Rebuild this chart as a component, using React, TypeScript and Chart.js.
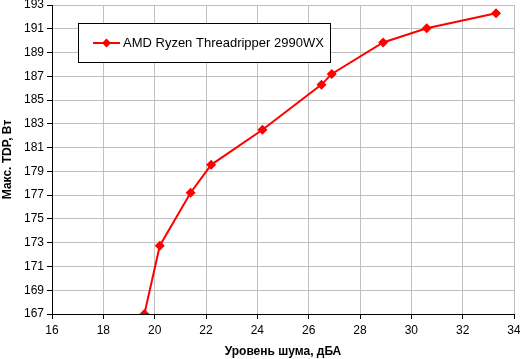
import React, { useEffect, useRef } from "react";
import { Chart, registerables } from "chart.js";

Chart.register(...registerables);

const seriesLabel = "AMD Ryzen Threadripper 2990WX";
const noiseDbA = [19.6, 20.2, 21.4, 22.2, 24.2, 26.5, 26.9, 28.9, 30.6, 33.3];
const maxTdpW = [167, 172.75, 177.2, 179.55, 182.5, 186.3, 187.2, 189.85, 191.05, 192.3];
const xTitle = "Уровень шума, дБА";
const yTitle = "Макс. TDP, Вт";

const FONT = "Arial, 'Liberation Sans', sans-serif";

const legendPlugin = {
  id: "boxLegend",
  afterDatasetsDraw(chart: any) {
    const ctx = chart.ctx;
    const ds = chart.data.datasets[0];
    ctx.save();
    const x0 = 78.5, y0 = 23.5, w = 252, h = 39;
    ctx.fillStyle = "#ffffff";
    ctx.fillRect(x0, y0, w, h);
    ctx.strokeStyle = "#000000";
    ctx.lineWidth = 1;
    ctx.strokeRect(x0, y0, w, h);
    const cy = 43;
    ctx.strokeStyle = ds.borderColor;
    ctx.lineWidth = 2;
    ctx.beginPath();
    ctx.moveTo(93, cy);
    ctx.lineTo(120, cy);
    ctx.stroke();
    ctx.fillStyle = ds.pointBackgroundColor;
    ctx.beginPath();
    ctx.moveTo(106.5, cy - 4.5);
    ctx.lineTo(111, cy);
    ctx.lineTo(106.5, cy + 4.5);
    ctx.lineTo(102, cy);
    ctx.closePath();
    ctx.fill();
    ctx.fillStyle = "#000000";
    ctx.font = `13px ${FONT}`;
    ctx.textBaseline = "middle";
    ctx.textAlign = "left";
    ctx.fillText(ds.label, 123, cy);
    ctx.restore();
  },
};

export default function App() {
  const ref = useRef<HTMLCanvasElement | null>(null);
  useEffect(() => {
    document.body.style.margin = "0";
    const canvas = ref.current!;
    const chart = new Chart(canvas, {
      type: "scatter",
      data: {
        datasets: [
          {
            label: seriesLabel,
            data: noiseDbA.map((x, i) => ({ x, y: maxTdpW[i] })),
            showLine: true,
            borderColor: "#ff0000",
            backgroundColor: "#ff0000",
            pointBackgroundColor: "#ff0000",
            pointBorderColor: "#ff0000",
            borderWidth: 2,
            pointStyle: "rectRot",
            pointRadius: 5,
            pointBorderWidth: 0,
          },
        ],
      },
      options: {
        animation: false,
        responsive: false,
        devicePixelRatio: 1,
        layout: { padding: { left: 0, right: 6, top: 5, bottom: 0 } },
        plugins: {
          legend: { display: false },
          tooltip: { enabled: false },
        },
        scales: {
          x: {
            type: "linear",
            min: 16,
            max: 34,
            afterFit: (s: any) => {
              s.height = 45;
              s.paddingLeft = 0;
              s.paddingRight = 0;
            },
            ticks: {
              stepSize: 2,
              color: "#000",
              font: { family: FONT, size: 12 },
              padding: 4,
              maxRotation: 0,
            },
            grid: {
              color: "#c0c0c0",
              tickColor: "#000",
              tickLength: 5,
              lineWidth: 1,
            },
            border: { color: "#000", width: 1 },
            title: {
              display: true,
              text: xTitle,
              color: "#000",
              font: { family: FONT, size: 12, weight: "bold" },
              padding: { top: 2, bottom: 0 },
            },
          },
          y: {
            type: "linear",
            min: 167,
            max: 193,
            afterFit: (s: any) => {
              s.width = 52;
              s.paddingTop = 0;
              s.paddingBottom = 0;
            },
            ticks: {
              stepSize: 2,
              color: "#000",
              font: { family: FONT, size: 12 },
              padding: 3,
            },
            grid: {
              color: "#c0c0c0",
              tickColor: "#000",
              tickLength: 5,
              lineWidth: 1,
            },
            border: { color: "#000", width: 1 },
            title: {
              display: true,
              text: yTitle,
              color: "#000",
              font: { family: FONT, size: 12, weight: "bold" },
              padding: { top: 0, bottom: 0 },
            },
          },
        },
      },
      plugins: [legendPlugin],
    } as any);
    return () => chart.destroy();
  }, []);
  return (
    <div style={{ position: "absolute", left: 0, top: 0, width: 520, height: 359, background: "#fff" }}>
      <canvas ref={ref} width={520} height={359} style={{ width: 520, height: 359, display: "block" }} />
    </div>
  );
}
